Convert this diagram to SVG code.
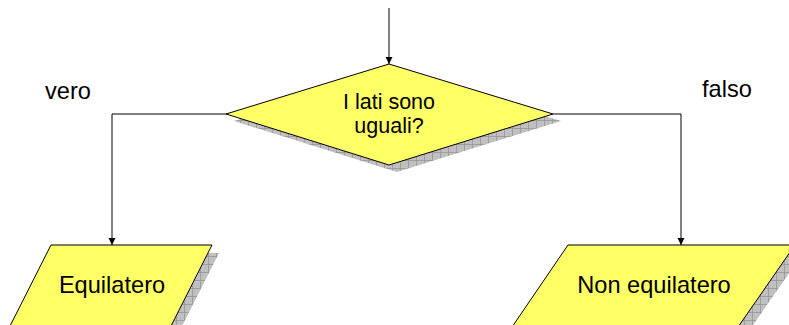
<svg xmlns="http://www.w3.org/2000/svg" width="789" height="325" viewBox="0 0 789 325">
<style>
.shape{fill:#ffff66;stroke:#000;stroke-width:1}
.shadow{fill:url(#hatch);stroke:none}
.conn{fill:none;stroke:#000;stroke-width:1}
text{font-family:"Liberation Sans",Arial,sans-serif;font-size:23.6px;fill:#000}
.c{text-anchor:middle}
.d{font-size:21.5px}
</style>
<defs>
<pattern id="hatch" width="8" height="8" patternUnits="userSpaceOnUse">
<rect width="8" height="8" fill="#c0c0c0"/>
<path d="M0 0.5H8M0.5 0V8" stroke="#959595" stroke-width="0.8"/>
</pattern>
<marker id="arrow" markerWidth="8" markerHeight="8" refX="7" refY="4" orient="auto" markerUnits="userSpaceOnUse">
<path d="M0 0.5L7 4L0 7.5Z" fill="#000"/>
</marker>
</defs>
<g id="connectors">
<line class="conn" x1="389" y1="8" x2="389" y2="64" marker-end="url(#arrow)"/>
<polyline class="conn" points="227,114 112,114 112,245" marker-end="url(#arrow)"/>
<polyline class="conn" points="553,114 681,114 681,245" marker-end="url(#arrow)"/>
</g>
<g id="decision">
<polygon class="shadow" points="397,71 561,121 397,172 234,121"/>
<polygon class="shape" points="389,64 553,114 389,165 226,114"/>
<text class="c d" x="389" y="109">I lati sono</text>
<text class="c d" x="389" y="133">uguali?</text>
</g>
<g id="label-vero"><text x="45" y="99">vero</text></g>
<g id="label-falso"><text x="702" y="97">falso</text></g>
<g id="equilatero">
<polygon class="shadow" points="58,253 219,253 176,338 15,338"/>
<polygon class="shape" points="51,245 212,245 169,330 8,330"/>
<text class="c" x="112" y="293">Equilatero</text>
</g>
<g id="non-equilatero">
<polygon class="shadow" points="576,253 803,253 744,338 518,338"/>
<polygon class="shape" points="568,245 795,245 736,330 510,330"/>
<text class="c" x="654" y="293">Non equilatero</text>
</g>
</svg>
